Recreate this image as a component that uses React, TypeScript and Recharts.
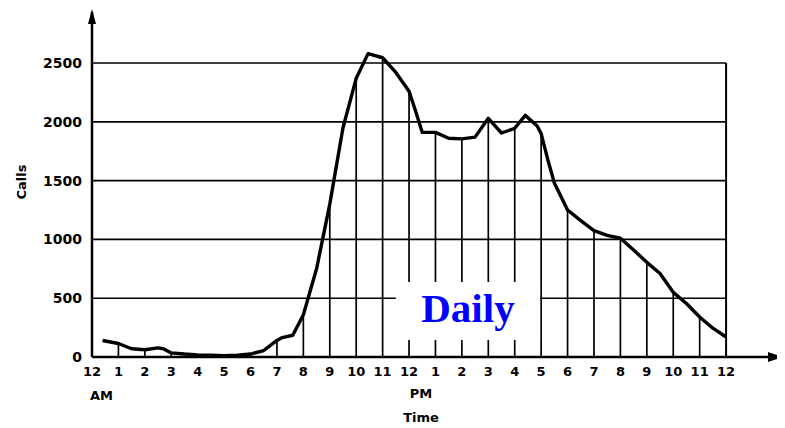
import React from 'react';
import {
  ComposedChart,
  Line,
  XAxis,
  YAxis,
  ReferenceLine,
  ReferenceArea,
  ReferenceDot,
  Label,
} from 'recharts';

// Hour of day (0 = midnight AM, 12 = noon, 24 = midnight)
const hours = [
  0.4, 1, 1.5, 2, 2.5, 2.7, 3, 3.5, 4, 4.5, 5, 5.5, 6, 6.5, 6.9, 7, 7.2, 7.6, 8,
  8.5, 9, 9.5, 10, 10.45, 11, 11.5, 12, 12.25, 12.5, 13, 13.5, 14, 14.5, 15, 15.5, 16,
  16.4, 16.85, 17, 17.25, 17.5, 18, 18.5, 19, 19.5, 20, 20.5, 21, 21.5, 22, 22.5, 23,
  23.5, 24,
];
// Calls per hour
const calls = [
  140, 115, 70, 62, 78, 70, 35, 25, 18, 15, 12, 15, 25, 55, 125, 140, 165, 185, 360,
  750, 1300, 1950, 2370, 2580, 2545, 2420, 2260, 2090, 1910, 1910, 1860, 1855, 1870, 2030,
  1905, 1945, 2055, 1965, 1900, 1680, 1480, 1250, 1160, 1075, 1035, 1010, 910, 805, 710,
  550, 455, 340, 245, 170,
];

const xTicks = [
  0, 1, 2, 3, 4, 5, 6, 7, 8, 9, 10, 11, 12, 13, 14, 15, 16, 17, 18, 19, 20, 21, 22, 23, 24,
];
const xTickLabels = [
  '12', '1', '2', '3', '4', '5', '6', '7', '8', '9', '10', '11',
  '12', '1', '2', '3', '4', '5', '6', '7', '8', '9', '10', '11', '12',
];
const yTicks = [0, 500, 1000, 1500, 2000, 2500];
const gridValues = [500, 1000, 1500, 2000, 2500];

const X_MAX = 26.23;
const Y_MAX = 2934;
const LAST_HOUR = 24;

const data = hours.map((h, i) => ({ hour: h, calls: calls[i] }));
const drops = data.filter((d) => Number.isInteger(d.hour) && d.hour >= 1 && d.hour < LAST_HOUR);

const FONT = '"DejaVu Sans", sans-serif';

const XTick = (props: any) => {
  const { x, y, payload } = props;
  const v = payload.value as number;
  return (
    <g fontFamily={FONT} fontWeight="bold" fill="#000">
      <text x={x} y={y + 19} textAnchor="middle" fontSize={13} fill="#000">
        {xTickLabels[v]}
      </text>
      {v === 0 && (
        <text x={x - 2} y={y + 43} textAnchor="start" fontSize={13} fill="#000">
          AM
        </text>
      )}
      {v === 12 && (
        <g>
          <text x={x + 12} y={y + 41} textAnchor="middle" fontSize={13} fill="#000">
            PM
          </text>
          <text x={x + 12} y={y + 65} textAnchor="middle" fontSize={13} fill="#000">
            Time
          </text>
        </g>
      )}
    </g>
  );
};

const YTick = (props: any) => {
  const { x, y, payload } = props;
  return (
    <text
      x={x - 10}
      y={y + 5}
      textAnchor="end"
      fontFamily={FONT}
      fontWeight="bold"
      fontSize={14}
      fill="#000"
    >
      {payload.value}
    </text>
  );
};

export default function App() {
  return (
    <ComposedChart
      width={777}
      height={420}
      data={data}
      margin={{ top: 4, right: 0, left: 0, bottom: 41 }}
    >
      <XAxis
        dataKey="hour"
        type="number"
        domain={[0, X_MAX]}
        ticks={xTicks}
        interval={0}
        tick={<XTick />}
        tickLine={false}
        tickSize={0}
        tickMargin={0}
        axisLine={{ stroke: '#000', strokeWidth: 2.5 }}
        height={30}
        allowDataOverflow
      />
      <YAxis
        type="number"
        domain={[0, Y_MAX]}
        ticks={yTicks}
        interval={0}
        tick={<YTick />}
        tickLine={false}
        tickSize={0}
        tickMargin={0}
        width={84}
        axisLine={{ stroke: '#000', strokeWidth: 2.5 }}
        allowDataOverflow
      >
        <Label
          content={(p: any) => {
            const vb = p.viewBox || { x: 0, y: 0 };
            const cx = vb.x + 13;
            const cy = vb.y + 170;
            return (
              <text
                x={cx}
                y={cy}
                transform={`rotate(-90 ${cx} ${cy})`}
                textAnchor="middle"
                dominantBaseline="central"
                fontFamily={FONT}
                fontWeight="bold"
                fontSize={13}
                fill="#000"
              >
                Calls
              </text>
            );
          }}
        />
      </YAxis>

      {gridValues.map((g) => (
        <ReferenceLine
          key={'g' + g}
          segment={[
            { x: 0, y: g },
            { x: LAST_HOUR, y: g },
          ]}
          stroke="#000"
          strokeWidth={1.6}
          zIndex={50}
        />
      ))}
      {drops.map((d) => (
        <ReferenceLine
          key={'d' + d.hour}
          segment={[
            { x: d.hour, y: 0 },
            { x: d.hour, y: d.calls },
          ]}
          stroke="#000"
          strokeWidth={1.7}
          zIndex={50}
        />
      ))}
      <ReferenceLine
        segment={[
          { x: LAST_HOUR, y: 0 },
          { x: LAST_HOUR, y: 2500 },
        ]}
        stroke="#000"
        strokeWidth={2}
        zIndex={50}
      />

      <ReferenceArea
        x1={11.5}
        x2={16.96}
        y1={145}
        y2={638}
        fill="#fff"
        fillOpacity={1}
        stroke="none"
        zIndex={60}
        ifOverflow="visible"
      >
        <Label
          content={(p: any) => {
            const vb = p.viewBox || { x: 0, y: 0, width: 0, height: 0 };
            return (
              <text
                x={vb.x + vb.width / 2}
                y={vb.y + vb.height / 2 + 11}
                textAnchor="middle"
                fontFamily='"Liberation Serif", "Times New Roman", serif'
                fontWeight="bold"
                fontSize={41}
                fill="#0000FF"
              >
                Daily
              </text>
            );
          }}
        />
      </ReferenceArea>

      <Line
        type="linear"
        dataKey="calls"
        stroke="#000"
        strokeWidth={3.4}
        strokeLinejoin="round"
        dot={false}
        activeDot={false}
        isAnimationActive={false}
      />

      <ReferenceDot
        x={0}
        y={Y_MAX}
        ifOverflow="visible"
        shape={(p: any) => (
          <path
            d={`M${p.cx},${p.cy - 3} L${p.cx - 4},${p.cy + 12} L${p.cx + 4},${p.cy + 12} Z`}
            fill="#000"
          />
        )}
      />
      <ReferenceDot
        x={X_MAX}
        y={0}
        ifOverflow="visible"
        shape={(p: any) => (
          <path
            d={`M${p.cx - 2},${p.cy} L${p.cx - 17},${p.cy - 5} L${p.cx - 17},${p.cy + 5} Z`}
            fill="#000"
          />
        )}
      />
    </ComposedChart>
  );
}
